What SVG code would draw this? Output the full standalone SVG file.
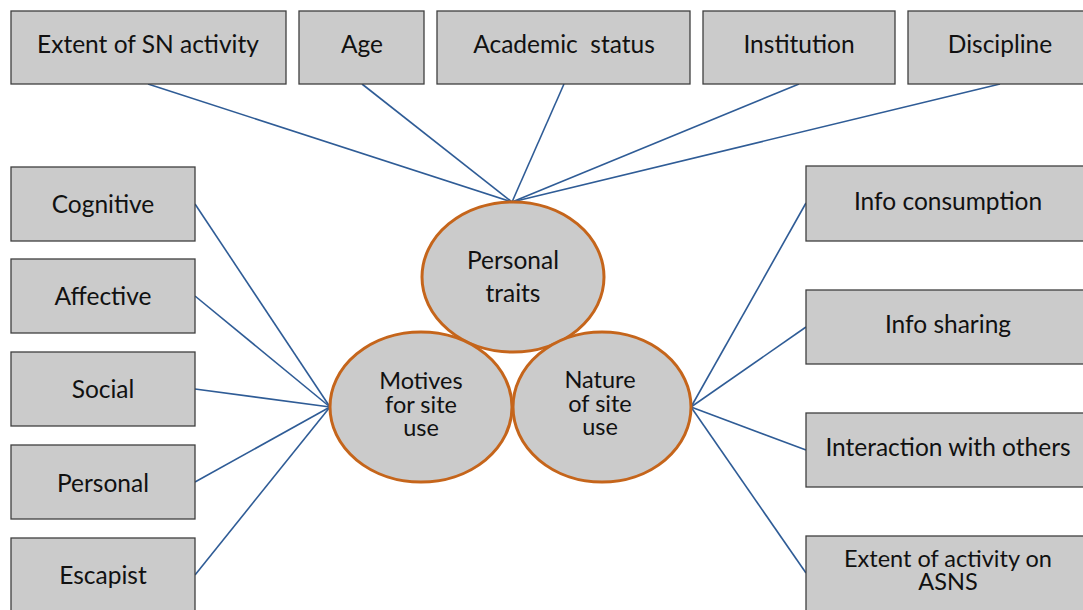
<svg xmlns="http://www.w3.org/2000/svg" width="1083" height="610" viewBox="0 0 1083 610">
<style>
.box{fill:#CBCBCB;stroke:#3F3F3F;stroke-width:1.3}
.ell{fill:#CBCBCB;stroke:#C5651B;stroke-width:3}
.lbl{font-family:Lato,"Open Sans",sans-serif;font-size:24.5px;fill:#111;text-anchor:middle}
.sm{font-size:23.5px}
.con line{stroke:#2F5C96;stroke-width:1.6}
</style>
<rect width="1083" height="610" fill="#fff"/>
<g class="con">
<line x1="148" y1="84" x2="512" y2="202"/>
<line x1="362" y1="84" x2="512" y2="202"/>
<line x1="564" y1="84" x2="512" y2="202"/>
<line x1="799" y1="84" x2="512" y2="202"/>
<line x1="1000" y1="84" x2="512" y2="202"/>
<line x1="195" y1="204" x2="330" y2="407"/>
<line x1="195" y1="296" x2="330" y2="407"/>
<line x1="195" y1="389" x2="330" y2="407"/>
<line x1="195" y1="482" x2="330" y2="407"/>
<line x1="195" y1="575" x2="330" y2="407"/>
<line x1="691" y1="407" x2="806" y2="203"/>
<line x1="691" y1="407" x2="806" y2="327"/>
<line x1="691" y1="407" x2="806" y2="450"/>
<line x1="691" y1="407" x2="806" y2="573"/>
</g>
<g id="n-extent"><rect class="box" x="11" y="11" width="275" height="73"/><text class="lbl" x="148" y="53">Extent of SN activity</text></g>
<g id="n-age"><rect class="box" x="299" y="11" width="125" height="73"/><text class="lbl" x="362" y="53">Age</text></g>
<g id="n-academic"><rect class="box" x="437" y="11" width="253" height="73"/><text class="lbl" x="564" y="53" xml:space="preserve">Academic  status</text></g>
<g id="n-institution"><rect class="box" x="703" y="11" width="192" height="73"/><text class="lbl" x="799" y="53">Institution</text></g>
<g id="n-discipline"><rect class="box" x="908" y="11" width="190" height="73"/><text class="lbl" x="1000" y="53">Discipline</text></g>
<g id="n-cognitive"><rect class="box" x="11" y="167" width="184" height="74"/><text class="lbl" x="103" y="213">Cognitive</text></g>
<g id="n-affective"><rect class="box" x="11" y="259" width="184" height="74"/><text class="lbl" x="103" y="305">Affective</text></g>
<g id="n-social"><rect class="box" x="11" y="352" width="184" height="74"/><text class="lbl" x="103" y="398">Social</text></g>
<g id="n-personal"><rect class="box" x="11" y="445" width="184" height="74"/><text class="lbl" x="103" y="492">Personal</text></g>
<g id="n-escapist"><rect class="box" x="11" y="538" width="184" height="80"/><text class="lbl" x="103" y="584">Escapist</text></g>
<g id="n-infocons"><rect class="box" x="806" y="166" width="290" height="75"/><text class="lbl" x="948" y="210">Info consumption</text></g>
<g id="n-infoshare"><rect class="box" x="806" y="290" width="290" height="74"/><text class="lbl" x="948" y="333">Info sharing</text></g>
<g id="n-interaction"><rect class="box" x="806" y="413" width="290" height="74"/><text class="lbl" x="948" y="456">Interaction with others</text></g>
<g id="n-asns"><rect class="box" x="806" y="536" width="290" height="80"/><text class="lbl sm" x="948" y="567">Extent of activity on</text><text class="lbl sm" x="948" y="590">ASNS</text></g>
<g id="n-traits"><ellipse class="ell" cx="513" cy="277" rx="91" ry="75"/><text class="lbl" x="513" y="269">Personal</text><text class="lbl" x="513" y="302">traits</text></g>
<g id="n-motives"><ellipse class="ell" cx="421" cy="407" rx="91" ry="75"/><text class="lbl sm" x="421" y="389">Motives</text><text class="lbl sm" x="421" y="413">for site</text><text class="lbl sm" x="421" y="436">use</text></g>
<g id="n-nature"><ellipse class="ell" cx="602" cy="407" rx="89" ry="75"/><text class="lbl sm" x="600" y="388">Nature</text><text class="lbl sm" x="600" y="412">of site</text><text class="lbl sm" x="600" y="435">use</text></g>
</svg>
